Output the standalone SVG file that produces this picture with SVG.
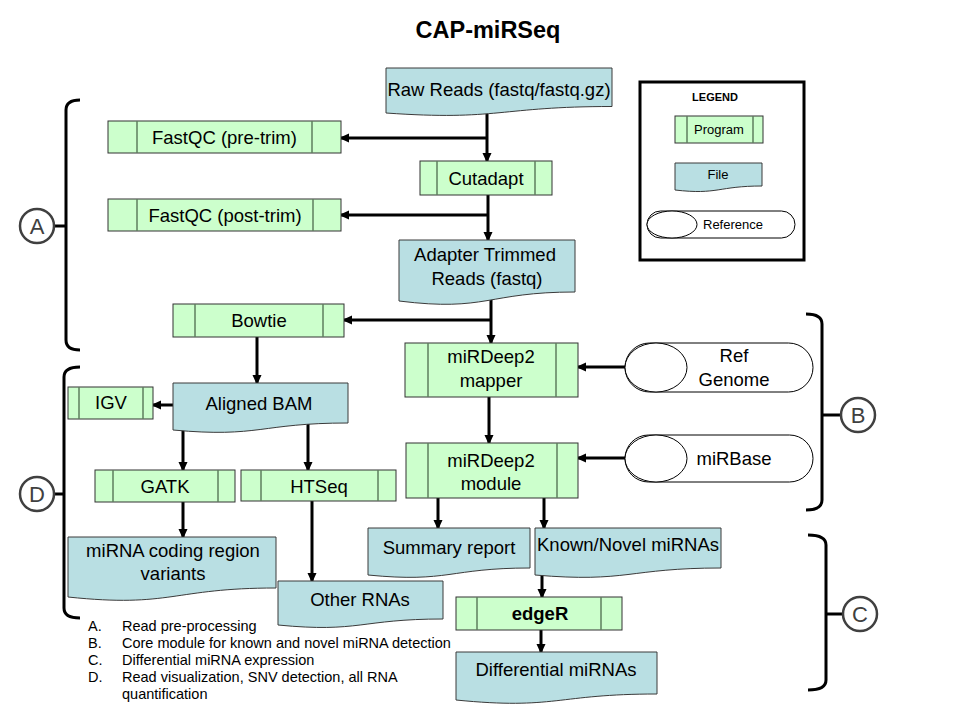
<svg xmlns="http://www.w3.org/2000/svg" width="960" height="720" viewBox="0 0 960 720">
<defs>
<style>
text{font-family:"Liberation Sans",Arial,sans-serif;fill:#000;}
.t{font-size:18.5px;text-anchor:middle;}
.prog{fill:#ccffcc;stroke:#333;stroke-width:1;}
.inner{stroke:#5e7e5e;stroke-width:1.5;}
.file{fill:#b9dfe3;stroke:#3a3a3a;stroke-width:1;}
.ref{fill:#fff;stroke:#000;stroke-width:1;}
.conn{fill:none;stroke:#000;stroke-width:3;marker-end:url(#ah);}
.brk{fill:none;stroke:#000;stroke-width:3;}
.circ{fill:#fff;stroke:#404040;stroke-width:2.5;}
.ct{font-size:22px;text-anchor:middle;fill:#404040;}
.note{font-size:14.5px;}
.lg{font-size:13px;text-anchor:middle;}
</style>
<marker id="ah" viewBox="0 0 10 10" refX="8" refY="5" markerWidth="10" markerHeight="10" markerUnits="userSpaceOnUse" orient="auto">
<path d="M0,0.5 L10,5 L0,9.5 z" fill="#000"/>
</marker>
</defs>
<rect width="960" height="720" fill="#fff"/>
<text x="488" y="38" style="font-size:23.5px;font-weight:bold;text-anchor:middle">CAP-miRSeq</text>

<g id="connectors">
<path class="conn" d="M487,106 V161"/>
<path class="conn" d="M487,138 H341"/>
<path class="conn" d="M488,195 V240"/>
<path class="conn" d="M488,215 H341"/>
<path class="conn" d="M491,292 V343"/>
<path class="conn" d="M491,320 H344"/>
<path class="conn" d="M625,367 H578"/>
<path class="conn" d="M489,397 V443"/>
<path class="conn" d="M625,458 H578"/>
<path class="conn" d="M438,498 V528"/>
<path class="conn" d="M544,498 V528"/>
<path class="conn" d="M542,568 V597"/>
<path class="conn" d="M541,630 V652"/>
<path class="conn" d="M257,337 V383"/>
<path class="conn" d="M173,405 H153"/>
<path class="conn" d="M183,425 V470"/>
<path class="conn" d="M308,423 V470"/>
<path class="conn" d="M183,502 V537"/>
<path class="conn" d="M312,501 V581"/>
</g>

<g id="raw-reads">
<path class="file" d="M386,68 H612 V106.5 C499,106.5 499,121 386,113 Z"/>
<text class="t" x="499" y="96">Raw Reads (fastq/fastq.gz)</text>
</g>
<g id="fastqc-pre">
<rect class="prog" x="108" y="121" width="233" height="32"/>
<line class="inner" x1="137" y1="121" x2="137" y2="153"/>
<line class="inner" x1="312" y1="121" x2="312" y2="153"/>
<text class="t" x="224.5" y="143.5">FastQC (pre-trim)</text>
</g>
<g id="cutadapt">
<rect class="prog" x="420" y="161" width="132" height="34"/>
<line class="inner" x1="437" y1="161" x2="437" y2="195"/>
<line class="inner" x1="535" y1="161" x2="535" y2="195"/>
<text class="t" x="486" y="185">Cutadapt</text>
</g>
<g id="fastqc-post">
<rect class="prog" x="108" y="199" width="233" height="32"/>
<line class="inner" x1="137" y1="199" x2="137" y2="231"/>
<line class="inner" x1="313" y1="199" x2="313" y2="231"/>
<text class="t" x="225" y="221.5">FastQC (post-trim)</text>
</g>
<g id="adapter-trimmed">
<path class="file" d="M399,240 H575 V292 C487,292 487,312 399,301 Z"/>
<text class="t" x="485" y="261">Adapter Trimmed</text>
<text class="t" x="487" y="285">Reads (fastq)</text>
</g>
<g id="bowtie">
<rect class="prog" x="173" y="304" width="171" height="33"/>
<line class="inner" x1="195" y1="304" x2="195" y2="337"/>
<line class="inner" x1="323" y1="304" x2="323" y2="337"/>
<text class="t" x="259" y="327">Bowtie</text>
</g>
<g id="mirdeep2-mapper">
<rect class="prog" x="405" y="343" width="173" height="54"/>
<line class="inner" x1="428" y1="343" x2="428" y2="397"/>
<line class="inner" x1="556" y1="343" x2="556" y2="397"/>
<text class="t" x="491" y="363">miRDeep2</text>
<text class="t" x="491" y="387">mapper</text>
</g>
<g id="ref-genome">
<rect class="ref" x="625" y="343" width="188" height="49" rx="24.5" ry="24.5"/>
<ellipse class="ref" cx="656" cy="367.5" rx="31" ry="24.5"/>
<text class="t" x="734" y="362">Ref</text>
<text class="t" x="734" y="386">Genome</text>
</g>
<g id="mirdeep2-module">
<rect class="prog" x="406" y="443" width="172" height="55"/>
<line class="inner" x1="428" y1="443" x2="428" y2="498"/>
<line class="inner" x1="557" y1="443" x2="557" y2="498"/>
<text class="t" x="491" y="467">miRDeep2</text>
<text class="t" x="491" y="490">module</text>
</g>
<g id="mirbase">
<rect class="ref" x="625" y="435" width="188" height="47" rx="23.5" ry="23.5"/>
<ellipse class="ref" cx="656" cy="458.5" rx="31" ry="23.5"/>
<text class="t" x="734" y="465">miRBase</text>
</g>
<g id="summary-report">
<path class="file" d="M368,528 H530 V568 C449,568 449,583 368,575 Z"/>
<text class="t" x="449" y="554">Summary report</text>
</g>
<g id="known-novel">
<path class="file" d="M535,528 H721 V568 C628,568 628,583 535,575 Z"/>
<text class="t" x="628" y="551">Known/Novel miRNAs</text>
</g>
<g id="edger">
<rect class="prog" x="456" y="597" width="166" height="33"/>
<line class="inner" x1="477" y1="597" x2="477" y2="630"/>
<line class="inner" x1="601" y1="597" x2="601" y2="630"/>
<text class="t" x="540" y="620" style="font-weight:bold">edgeR</text>
</g>
<g id="differential-mirnas">
<path class="file" d="M456,652 H657 V694 C556,694 556,710 456,700 Z"/>
<text class="t" x="556" y="676">Differential miRNAs</text>
</g>
<g id="igv">
<rect class="prog" x="68" y="387" width="85" height="32"/>
<line class="inner" x1="79" y1="387" x2="79" y2="419"/>
<line class="inner" x1="143" y1="387" x2="143" y2="419"/>
<text class="t" x="111" y="409">IGV</text>
</g>
<g id="aligned-bam">
<path class="file" d="M173,383 H348 V423 C260,423 260,438 173,430 Z"/>
<text class="t" x="259" y="410">Aligned BAM</text>
</g>
<g id="gatk">
<rect class="prog" x="95" y="470" width="140" height="32"/>
<line class="inner" x1="113" y1="470" x2="113" y2="502"/>
<line class="inner" x1="218" y1="470" x2="218" y2="502"/>
<text class="t" x="165" y="493">GATK</text>
</g>
<g id="htseq">
<rect class="prog" x="241" y="470" width="155" height="31"/>
<line class="inner" x1="261" y1="470" x2="261" y2="501"/>
<line class="inner" x1="378" y1="470" x2="378" y2="501"/>
<text class="t" x="319" y="493">HTSeq</text>
</g>
<g id="mirna-coding-variants">
<path class="file" d="M68,537 H276 V588 C172,588 172,608 68,597 Z"/>
<text class="t" x="173" y="557">miRNA coding region</text>
<text class="t" x="173" y="580">variants</text>
</g>
<g id="other-rnas">
<path class="file" d="M278,581 H443 V619 C360,619 360,633 278,625 Z"/>
<text class="t" x="360" y="606">Other RNAs</text>
</g>

<g id="legend">
<rect x="640" y="82" width="164" height="178" fill="#fff" stroke="#000" stroke-width="3"/>
<text x="715" y="101" style="font-size:11px;font-weight:bold;text-anchor:middle">LEGEND</text>
<rect class="prog" x="675" y="116" width="88" height="27"/>
<line class="inner" x1="687" y1="116" x2="687" y2="143"/>
<line class="inner" x1="753" y1="116" x2="753" y2="143"/>
<text class="lg" x="719" y="134">Program</text>
<path class="file" d="M675,163 H762 V186 C718,186 718,195 675,190 Z"/>
<text class="lg" x="718" y="179">File</text>
<rect class="ref" x="647" y="211" width="148" height="27" rx="13.5" ry="13.5"/>
<ellipse class="ref" cx="672" cy="224.5" rx="25" ry="13.5"/>
<text class="lg" x="733" y="229">Reference</text>
</g>

<g id="bracket-a">
<path class="brk" d="M80,100 Q66,100 66,110 V340 Q66,350 80,350"/>
<line x1="53" y1="226" x2="66" y2="226" stroke="#000" stroke-width="3"/>
<circle class="circ" cx="37" cy="226" r="17"/>
<text class="ct" x="37" y="234">A</text>
</g>
<g id="bracket-d">
<path class="brk" d="M80,367 Q64,367 64,377 V608 Q64,618 80,618"/>
<line x1="53" y1="494" x2="64" y2="494" stroke="#000" stroke-width="3"/>
<circle class="circ" cx="37" cy="494" r="17"/>
<text class="ct" x="37" y="502">D</text>
</g>
<g id="bracket-b">
<path class="brk" d="M806,314 Q822,314 822,324 V500 Q822,510 806,510"/>
<line x1="822" y1="415" x2="841" y2="415" stroke="#000" stroke-width="3"/>
<circle class="circ" cx="858" cy="415" r="17"/>
<text class="ct" x="858" y="423">B</text>
</g>
<g id="bracket-c">
<path class="brk" d="M808,535 Q826,535 826,545 V680 Q826,690 808,690"/>
<line x1="826" y1="614" x2="843" y2="614" stroke="#000" stroke-width="3"/>
<circle class="circ" cx="860" cy="614" r="17"/>
<text class="ct" x="860" y="622">C</text>
</g>

<g id="notes">
<text class="note" x="88" y="631">A.</text>
<text class="note" x="122" y="631">Read pre-processing</text>
<text class="note" x="88" y="648">B.</text>
<text class="note" x="122" y="648">Core module for known and novel miRNA detection</text>
<text class="note" x="88" y="665">C.</text>
<text class="note" x="122" y="665">Differential miRNA expression</text>
<text class="note" x="88" y="682">D.</text>
<text class="note" x="122" y="682">Read visualization, SNV detection, all RNA</text>
<text class="note" x="122" y="699">quantification</text>
</g>
</svg>
